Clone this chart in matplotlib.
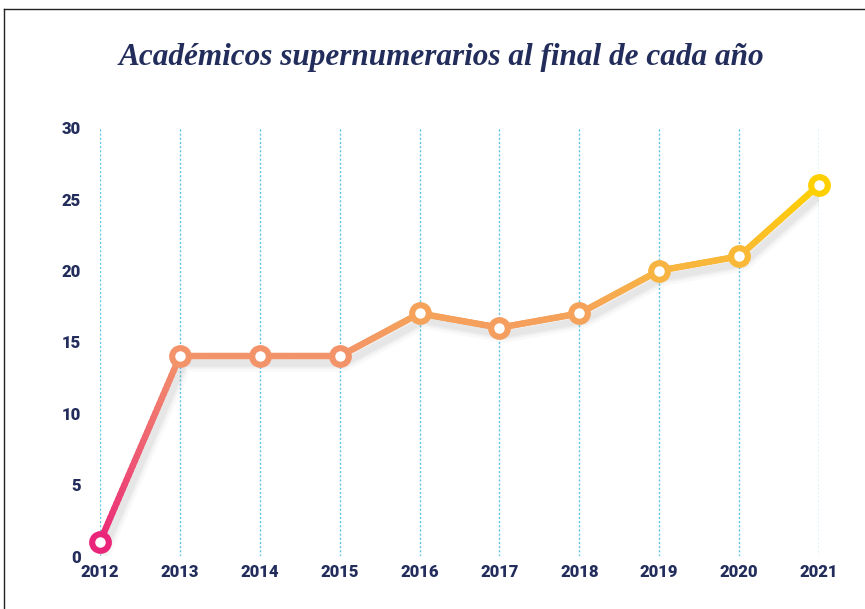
import numpy as np
import matplotlib
matplotlib.use("Agg")
import matplotlib.pyplot as plt
from matplotlib.collections import LineCollection
from matplotlib.colors import LinearSegmentedColormap
from matplotlib.lines import Line2D
import matplotlib.patheffects as pe

years = [2012, 2013, 2014, 2015, 2016, 2017, 2018, 2019, 2020, 2021]
supernumerarios = [1, 14, 14, 14, 17, 16, 17, 20, 21, 26]
yticks = [0, 5, 10, 15, 20, 25, 30]

navy = '#232D5C'
grid_blue = '#5EC6E6'
cmap = LinearSegmentedColormap.from_list(
    'grad', [(0.0, '#E91E7B'), (14 / 30, '#F3936A'), (17 / 30, '#F5A35A'),
             (20 / 30, '#F8B443'), (26 / 30, '#FFD000'), (1.0, '#FFD000')])

fig = plt.figure(figsize=(8.65, 6.09), dpi=100)
ax = fig.add_axes([0.1156, 0.087, 0.8312, 0.703])

# thin frame at top and left like the source page
fig.add_artist(Line2D([0.005, 1.0], [0.985, 0.985], color='#222222', lw=1.0))
fig.add_artist(Line2D([0.005, 0.005], [0.0, 0.985], color='#222222', lw=1.0))

# soft shadow under the line (drawn once, no overlap build-up)
for w, a in [(12, 0.035), (8, 0.05), (5, 0.06)]:
    ax.plot(years, supernumerarios, color='none', lw=w, solid_joinstyle='round',
            path_effects=[pe.SimpleLineShadow(offset=(3, -5), shadow_color='#555555', alpha=a)],
            zorder=2)

# line with vertical colour gradient, built from small pieces
xs, ys = [], []
for i in range(len(years) - 1):
    t = np.linspace(0, 1, 40)
    xs.extend(years[i] + (years[i + 1] - years[i]) * t)
    ys.extend(supernumerarios[i] + (supernumerarios[i + 1] - supernumerarios[i]) * t)
xs = np.array(xs)
ys = np.array(ys)
pts = np.column_stack([xs, ys]).reshape(-1, 1, 2)
segs = np.concatenate([pts[:-1], pts[1:]], axis=1)
lc = LineCollection(segs, cmap=cmap, norm=plt.Normalize(0, 30), linewidth=4.6,
                    capstyle='round', joinstyle='round', zorder=3)
lc.set_array((ys[:-1] + ys[1:]) / 2)
ax.add_collection(lc)

for x, y in zip(years, supernumerarios):
    ax.plot(x, y, 'o', ms=12, mfc='white', mec=cmap(y / 30), mew=4.4,
            zorder=4, clip_on=False)

ax.set_xlim(2012, 2021)
ax.set_ylim(0, 30)
ax.set_xticks(years)
ax.set_yticks(yticks)
ax.set_xticklabels([str(y) for y in years])
ax.tick_params(length=0, pad=6, colors=navy, labelsize=12)
ax.tick_params(axis='y', pad=14)
for lab in ax.get_xticklabels() + ax.get_yticklabels():
    lab.set_fontweight('heavy')
    lab.set_family('Roboto')

ax.grid(axis='x', color=grid_blue, linestyle=(0, (1.5, 1.5)), lw=1.0, zorder=1)
ax.grid(axis='y', visible=False)
for s in ax.spines.values():
    s.set_visible(False)

fig.text(0.51, 0.906, 'Académicos supernumerarios al final de cada año',
         ha='center', va='center', fontsize=22.5, style='italic', weight='bold',
         family='Liberation Serif', color=navy)

fig.savefig('out.png', dpi=100)
